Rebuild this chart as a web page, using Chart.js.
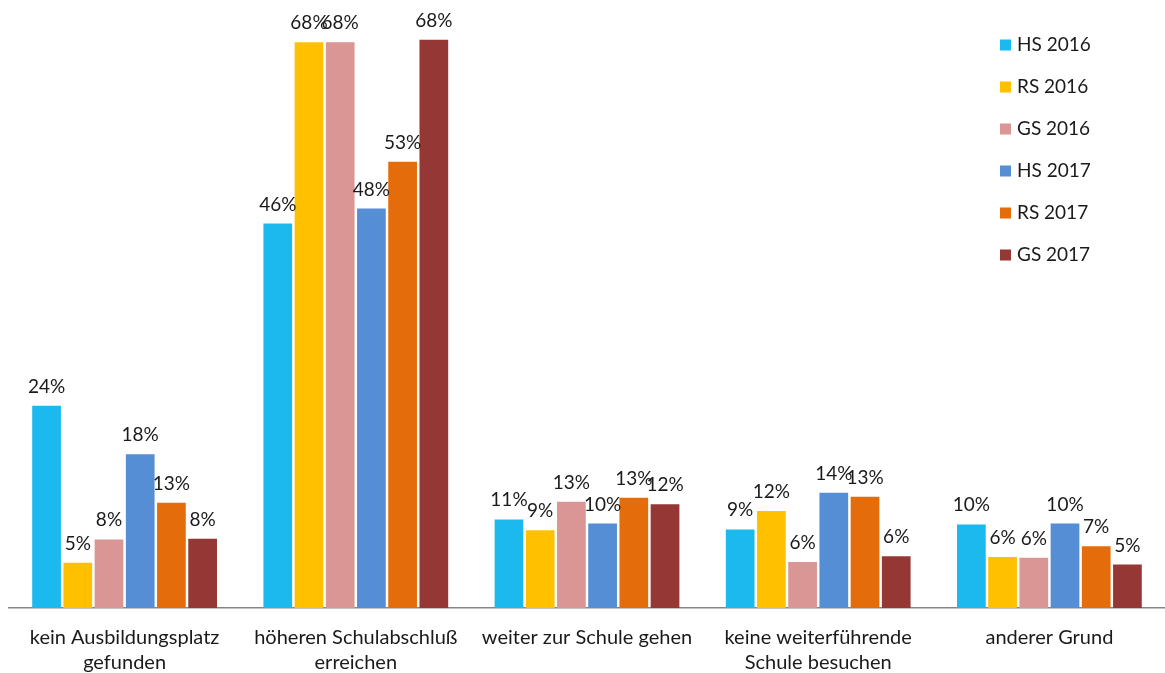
<!DOCTYPE html>
<html>
<head>
<meta charset="utf-8">
<script src="https://cdn.jsdelivr.net/npm/chart.js@4"></script>
<style>
  html, body { margin: 0; padding: 0; background: #fff; }
  #wrap { width: 1165px; height: 673px; position: relative; }
</style>
</head>
<body>
<div id="wrap"><canvas id="chart"></canvas></div>
<script>
const categories = [
    ['kein Ausbildungsplatz', 'gefunden'],
    ['höheren Schulabschluß', 'erreichen'],
    'weiter zur Schule gehen',
    ['keine weiterführende', 'Schule besuchen'],
    'anderer Grund'
];

const hs2016 = [24.2, 46.0, 10.6, 9.4, 10.0];
const rs2016 = [5.4, 67.7, 9.3, 11.6, 6.1];
const gs2016 = [8.2, 67.7, 12.7, 5.5, 6.0];
const hs2017 = [18.4, 47.8, 10.1, 13.8, 10.1];
const rs2017 = [12.6, 53.4, 13.2, 13.3, 7.4];
const gs2017 = [8.3, 68.0, 12.4, 6.2, 5.2];

const seriesNames = ['HS 2016', 'RS 2016', 'GS 2016', 'HS 2017', 'RS 2017', 'GS 2017'];
const seriesValues = [hs2016, rs2016, gs2016, hs2017, rs2017, gs2017];
const colors = ['#1cb9ef', '#ffc000', '#da9694', '#558ed5', '#e46c0a', '#953735'];

const FONT = 'Lato, "Open Sans", sans-serif';

/* value labels above each bar */
const valueLabels = {
    id: 'valueLabels',
    afterDatasetsDraw(chart) {
        const ctx = chart.ctx;
        ctx.save();
        ctx.font = '19px ' + FONT;
        ctx.fillStyle = '#1a1a1a';
        ctx.textAlign = 'center';
        ctx.textBaseline = 'alphabetic';
        chart.data.datasets.forEach(function (ds, i) {
            chart.getDatasetMeta(i).data.forEach(function (bar, j) {
                ctx.fillText(Math.round(ds.data[j]) + '%', bar.x, bar.y - 13);
            });
        });
        ctx.restore();
    }
};

/* legend drawn inside the plot, top right */
const insideLegend = {
    id: 'insideLegend',
    afterDraw(chart) {
        const ctx = chart.ctx;
        ctx.save();
        ctx.font = '19px ' + FONT;
        ctx.textBaseline = 'middle';
        ctx.textAlign = 'left';
        chart.data.datasets.forEach(function (ds, i) {
            const y = 45 + i * 42;
            ctx.fillStyle = ds.backgroundColor;
            ctx.fillRect(1000, y - 5.5, 11, 11);
            ctx.fillStyle = '#1a1a1a';
            ctx.fillText(ds.label, 1017, y);
        });
        ctx.restore();
    }
};

new Chart(document.getElementById('chart'), {
    type: 'bar',
    data: {
        labels: categories,
        datasets: seriesNames.map(function (name, i) {
            return {
                label: name,
                data: seriesValues[i],
                backgroundColor: colors[i],
                borderWidth: 0,
                categoryPercentage: 0.81,
                barPercentage: 0.92
            };
        })
    },
    options: {
        responsive: true,
        maintainAspectRatio: false,
        animation: false,
        layout: { padding: { top: 23, left: 9, right: 0, bottom: 0 } },
        plugins: {
            legend: { display: false },
            tooltip: { enabled: false }
        },
        scales: {
            x: {
                grid: { display: false },
                border: { display: true, color: '#868686', width: 1.5 },
                ticks: {
                    color: '#1a1a1a',
                    font: { family: FONT, size: 20, lineHeight: 1.25 },
                    padding: 9,
                    maxRotation: 0,
                    autoSkip: false
                },
                afterFit: function (scale) { scale.height = 65; }
            },
            y: {
                display: false,
                min: 0,
                max: 70
            }
        }
    },
    plugins: [valueLabels, insideLegend]
});
</script>
</body>
</html>
